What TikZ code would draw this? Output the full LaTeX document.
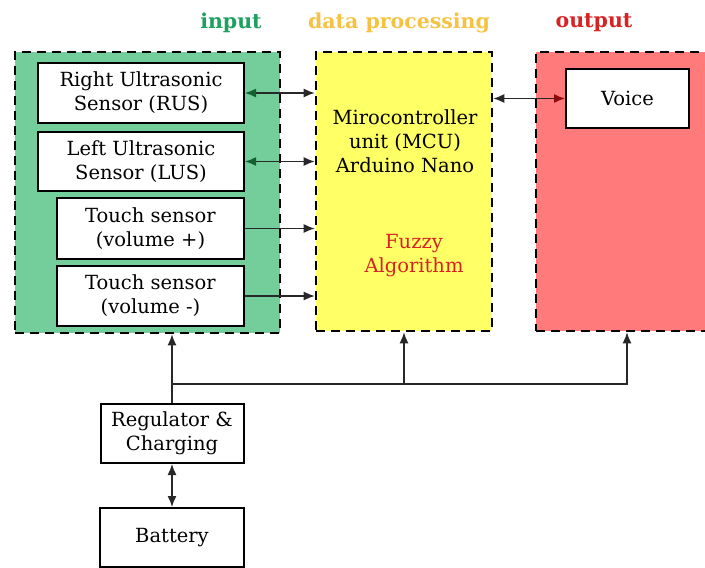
\documentclass[tikz,border=0pt]{standalone}
\usepackage{fontspec}
\setmainfont{DejaVu Serif}
\usepackage{tikz}
\usepackage{xcolor}
\usetikzlibrary{arrows.meta}
\definecolor{ingreen}{RGB}{115,206,156}
\definecolor{mcuyellow}{RGB}{255,255,102}
\definecolor{outred}{RGB}{255,122,122}
\definecolor{titlegreen}{RGB}{30,160,95}
\definecolor{titleyellow}{RGB}{245,195,65}
\definecolor{titlered}{RGB}{215,35,35}
\definecolor{headgreen}{RGB}{20,95,45}
\definecolor{headred}{RGB}{140,10,10}
\definecolor{linkgray}{RGB}{40,40,40}
\tikzset{
    group-box/.style = {draw=black, line width=2.6pt, dash pattern=on 9pt off 6pt, rectangle, inner sep=0pt},
    unit-box/.style = {draw=black, fill=white, line width=2pt, rectangle, inner sep=0pt, align=center, font=\fontsize{19.5}{24}\selectfont},
    group-title/.style = {font=\fontsize{20.5}{24}\selectfont\bfseries},
    link/.style = {draw=linkgray, line width=1.4pt, arrows={-Latex[length=11pt,width=9pt]}},
}
\begin{document}
\begin{tikzpicture}[x=1pt, y=-1pt]
\clip (0,0) rectangle (705,568);
\fill[white] (0,0) rectangle (705,568);
% titles
\node[group-title, text=titlegreen] (t-in) at (231,23) {input};
\node[group-title, text=titleyellow] (t-mcu) at (399,23) {data processing};
\node[group-title, text=titlered] (t-out) at (594,23) {output};
% the three groups
\node[group-box, fill=ingreen, minimum width=265pt, minimum height=281pt] (grp-in) at (147.5,192.5) {};
\node[group-box, fill=mcuyellow, minimum width=176pt, minimum height=279pt] (grp-mcu) at (404,191.5) {};
\node[group-box, fill=outred, minimum width=182pt, minimum height=279pt] (grp-out) at (627,191.5) {};
% units
\node[unit-box, minimum width=206pt, minimum height=60pt] (rus) at (141,93) {Right Ultrasonic\\Sensor (RUS)};
\node[unit-box, minimum width=206pt, minimum height=59pt] (lus) at (141,161.5) {Left Ultrasonic\\Sensor (LUS)};
\node[unit-box, minimum width=187pt, minimum height=61pt] (tplus) at (150.5,228.5) {Touch sensor\\(volume +)};
\node[unit-box, minimum width=187pt, minimum height=60pt] (tminus) at (150.5,296) {Touch sensor\\(volume -)};
\node[unit-box, minimum width=123pt, minimum height=59pt] (voice) at (627.5,98.5) {Voice};
\node[unit-box, minimum width=143pt, minimum height=59pt] (reg) at (172,433.5) {Regulator \&\\Charging};
\node[unit-box, minimum width=144pt, minimum height=59pt] (bat) at (172,537.5) {Battery};
\node[align=center, font=\fontsize{19.5}{24}\selectfont] (mcu) at (405,141) {Mirocontroller\\unit (MCU)\\Arduino Nano};
\node[align=center, text=titlered, font=\fontsize{19.5}{24}\selectfont] (fuzzy) at (414,256) {Fuzzy\\Algorithm};
% connections
\draw[link, arrows={Latex[length=11pt,width=9pt,headgreen]-Latex[length=11pt,width=9pt]}] (rus.east) -- (rus.east -| grp-mcu.west);
\draw[link, arrows={Latex[length=11pt,width=9pt,headgreen]-Latex[length=11pt,width=9pt]}] (lus.east) -- (lus.east -| grp-mcu.west);
\draw[link] (tplus.east) -- (tplus.east -| grp-mcu.west);
\draw[link] (tminus.east) -- (tminus.east -| grp-mcu.west);
\draw[link, arrows={Latex[length=11pt,width=9pt]-Latex[length=11pt,width=9pt,headred]}] (voice.west -| grp-mcu.east) -- (voice.west);
% power
\coordinate (split) at (172,384);
\draw[link] (reg.north) -- (reg.north |- grp-in.south);
\draw[link] (split) -| (grp-mcu.south);
\draw[link] (split) -| (grp-out.south);
\draw[link, arrows={Latex[length=11pt,width=9pt]-Latex[length=11pt,width=9pt]}] (reg.south) -- (bat.north);
\end{tikzpicture}
\end{document}
